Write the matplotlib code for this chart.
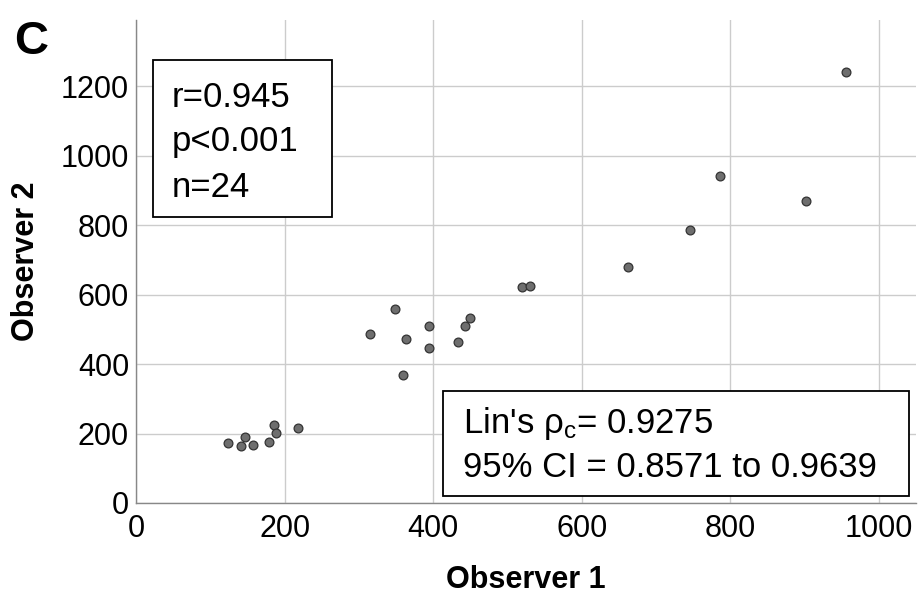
import matplotlib
matplotlib.use("Agg")
import matplotlib.pyplot as plt
from matplotlib.patches import Rectangle

plt.rcParams['font.family'] = ['Liberation Sans', 'DejaVu Sans']
plt.rcParams['mathtext.fontset'] = 'custom'
plt.rcParams['mathtext.rm'] = 'Liberation Sans'
plt.rcParams['mathtext.it'] = 'Liberation Sans'

observer1 = [124, 141, 147, 157, 179, 186, 188, 218,
             315, 349, 360, 363, 394, 395, 434, 443, 450,
             519, 530, 662, 746, 786, 902, 956]
observer2 = [172, 163, 189, 168, 176, 225, 202, 217,
             486, 559, 369, 472, 508, 445, 464, 510, 531,
             621, 624, 679, 785, 940, 869, 1239]
x_ticks = [0, 200, 400, 600, 800, 1000]
y_ticks = [0, 200, 400, 600, 800, 1000, 1200]
stats_text = ["r=0.945", "p<0.001", "n=24"]
lin_text = ["Lin's $\\mathregular{\\rho_c}$= 0.9275", "95% CI = 0.8571 to 0.9639"]

W, H = 918, 600
fig = plt.figure(figsize=(W / 100, H / 100), dpi=100)
L, R, T, B = 136, 916, 20, 503
ax = fig.add_axes([L / W, (H - B) / H, (R - L) / W, (B - T) / H])

ax.scatter(observer1, observer2, s=40, facecolor='#6e6e6e', edgecolor='#333333',
           linewidth=0.9, zorder=3)
ax.set_xlim(0, 1050)
ax.set_ylim(0, 1390)
ax.set_xticks(x_ticks)
ax.set_yticks(y_ticks)
ax.tick_params(length=0, labelsize=22, colors='black')
ax.tick_params(axis='x', pad=8)
ax.tick_params(axis='y', pad=5)
ax.grid(True, color='#cccccc', linewidth=1.0, zorder=0)
ax.set_axisbelow(True)
for s in ['top', 'right']:
    ax.spines[s].set_visible(False)
for s in ['left', 'bottom']:
    ax.spines[s].set_color('#888888')
    ax.spines[s].set_linewidth(1.0)

ax.set_xlabel("Observer 1", fontsize=22, fontweight='bold', labelpad=15)
ax.set_ylabel("Observer 2", fontsize=22, fontweight='bold', labelpad=14)

def fx(px):
    return (px - L) / (R - L)

def fy(py):
    return (B - py) / (B - T)

# box 1
ax.add_patch(Rectangle((fx(153), fy(217)), fx(332) - fx(153), fy(60) - fy(217),
                       transform=ax.transAxes, facecolor='white', edgecolor='black',
                       linewidth=1.3, zorder=4))
for t, by in zip(stats_text, [106.7, 151, 196.7]):
    ax.text(fx(172), fy(by), t, transform=ax.transAxes, fontsize=25,
            va='baseline', ha='left', zorder=5)

# box 2
ax.add_patch(Rectangle((fx(443), fy(496)), fx(909) - fx(443), fy(391) - fy(496),
                       transform=ax.transAxes, facecolor='white', edgecolor='black',
                       linewidth=1.3, zorder=4))
for t, by in zip(lin_text, [433.3, 476.7]):
    ax.text(fx(463), fy(by), t, transform=ax.transAxes, fontsize=25,
            va='baseline', ha='left', zorder=5)

fig.text(14 / W, 1 - 54 / H, "C", fontsize=34, fontweight='bold', va='baseline', ha='left')

fig.savefig("out.png", dpi=100)
